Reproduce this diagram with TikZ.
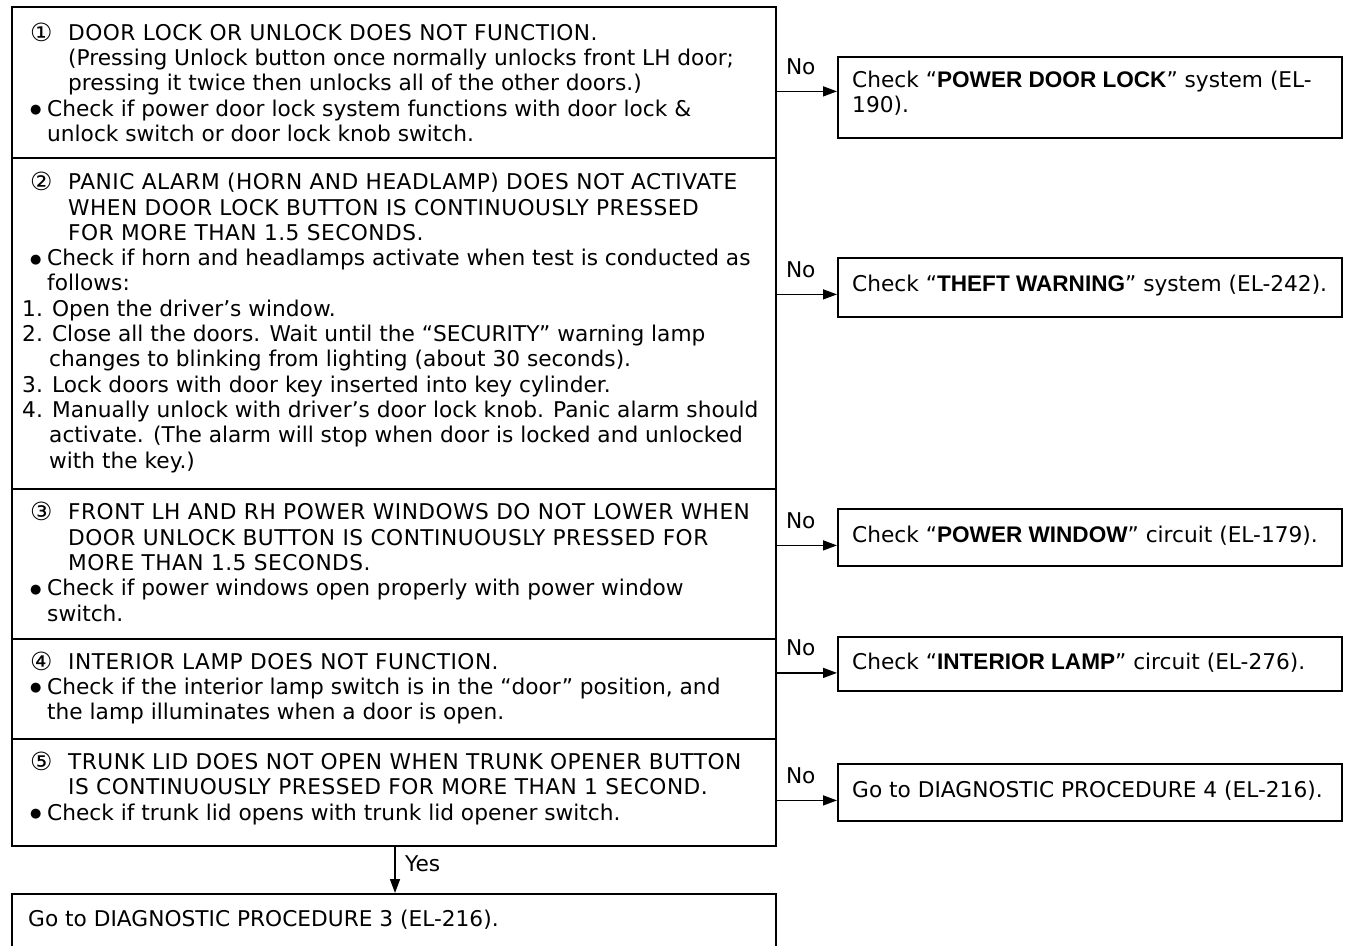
\documentclass[tikz,border=0pt]{standalone}
\usepackage{fontspec}
\setmainfont{DejaVu Sans}[BoldFont={Liberation Sans Bold},BoldFeatures={Scale=1.04}]
\usetikzlibrary{arrows.meta,calc}

% circled step number, bullet and the hanging indents used in the step boxes
\newcommand\cnum[1]{\raisebox{-1pt}{\fontsize{25}{25}\selectfont #1}}
\newcommand\lead[1]{\hspace*{8pt}\makebox[38pt][l]{\cnum{#1}}}
\newcommand\ind{\hspace*{46pt}}
\newcommand\bul{\makebox[25pt][l]{\hspace*{8pt}\raisebox{2.5pt}{\fontsize{13}{13}\selectfont ●}}}
\newcommand\bind{\hspace*{25pt}}
\newcommand\nind{\hspace*{27pt}}
% capitals are set slightly wider
\newcommand\wide[1]{{\addfontfeature{LetterSpace=2.2}#1}}

\begin{document}
\begin{tikzpicture}[x=1pt,y=-1pt,
  font=\fontsize{21.7}{25.3}\selectfont,
  stage/.style={draw, line width=1.8pt, rectangle, anchor=north west,
    minimum width=764pt, inner sep=0pt},
  rbox/.style={draw, line width=1.8pt, rectangle, anchor=north west,
    minimum width=504pt, inner sep=0pt},
  txt/.style={anchor=west, align=left, inner sep=0pt},
  flow/.style={line width=1.5pt, -{Triangle[length=14pt,width=10pt]}},
  lbl/.style={inner sep=0pt}]

\useasboundingbox (0,0) rectangle (1351,945);

% ---- step boxes (left column) ----
\node[stage, minimum height=151pt] (b1) at (11,6) {};
\node[stage, minimum height=331pt] (b2) at (11,157) {};
\node[stage, minimum height=150pt] (b3) at (11,488) {};
\node[stage, minimum height=100pt] (b4) at (11,638) {};
\node[stage, minimum height=107pt] (b5) at (11,738) {};
% final box (runs off the lower edge)
\node[stage, minimum height=62pt] (fin) at (11,893) {};

\node[txt] (t1) at ($(b1.west)+(11,0)$) {%
\lead{①}\wide{DOOR LOCK OR UNLOCK DOES NOT FUNCTION.}\\
\ind(Pressing Unlock button once normally unlocks front LH door;\\
\ind pressing it twice then unlocks all of the other doors.)\\
\bul Check if power door lock system functions with door lock \&\\
\bind unlock switch or door lock knob switch.};

\node[txt] (t2) at ($(b2.west)+(11,-1)$) {%
\lead{②}\wide{PANIC ALARM (HORN AND HEADLAMP) DOES NOT ACTIVATE}\\
\ind\wide{WHEN DOOR LOCK BUTTON IS CONTINUOUSLY PRESSED}\\
\ind\wide{FOR MORE THAN 1.5 SECONDS.}\\
\bul Check if horn and headlamps activate when test is conducted as\\
\bind follows:\\
1. Open the driver's window.\\
2. Close all the doors. Wait until the ``SECURITY'' warning lamp\\
\nind changes to blinking from lighting (about 30 seconds).\\
3. Lock doors with door key inserted into key cylinder.\\
4. Manually unlock with driver's door lock knob. Panic alarm should\\
\nind activate. (The alarm will stop when door is locked and unlocked\\
\nind with the key.)};

\node[txt] (t3) at ($(b3.west)+(11,-2)$) {%
\lead{③}\wide{FRONT LH AND RH POWER WINDOWS DO NOT LOWER WHEN}\\
\ind\wide{DOOR UNLOCK BUTTON IS CONTINUOUSLY PRESSED FOR}\\
\ind\wide{MORE THAN 1.5 SECONDS.}\\
\bul Check if power windows open properly with power window\\
\bind switch.};

\node[txt] (t4) at ($(b4.west)+(11,-1)$) {%
\lead{④}\wide{INTERIOR LAMP DOES NOT FUNCTION.}\\
\bul Check if the interior lamp switch is in the ``door'' position, and\\
\bind the lamp illuminates when a door is open.};

\node[txt] (t5) at ($(b5.west)+(11,-4)$) {%
\lead{⑤}\wide{TRUNK LID DOES NOT OPEN WHEN TRUNK OPENER BUTTON}\\
\ind\wide{IS CONTINUOUSLY PRESSED FOR MORE THAN 1 SECOND.}\\
\bul Check if trunk lid opens with trunk lid opener switch.};

\node[lbl, anchor=base west] (fintxt) at ($(fin.north west)+(17,33)$)
  {Go to DIAGNOSTIC PROCEDURE 3 (EL-216).};

% ---- result boxes (right column) ----
\node[rbox, minimum height=81pt] (r1) at (837,56) {};
\node[rbox, minimum height=59pt] (r2) at (837,257) {};
\node[rbox, minimum height=57pt] (r3) at (837,508) {};
\node[rbox, minimum height=54pt] (r4) at (837,636) {};
\node[rbox, minimum height=57pt] (r5) at (837,763) {};

\node[txt] (s1) at ($(r1.west)+(15,-4)$)
  {Check ``\textbf{POWER DOOR LOCK}'' system (EL-\\190).};
\node[txt] (s2) at ($(r2.west)+(15,-2)$)
  {Check ``\textbf{THEFT WARNING}'' system (EL-242).};
\node[txt] (s3) at ($(r3.west)+(15,-2)$)
  {Check ``\textbf{POWER WINDOW}'' circuit (EL-179).};
\node[txt] (s4) at ($(r4.west)+(15,-1)$)
  {Check ``\textbf{INTERIOR LAMP}'' circuit (EL-276).};
\node[txt] (s5) at ($(r5.west)+(15,-2)$)
  {Go to DIAGNOSTIC PROCEDURE 4 (EL-216).};

% ---- "No" branches ----
\foreach \b/\r/\dy in {b1/r1/-6, b2/r2/7, b3/r3/8, b4/r4/9, b5/r5/8}{
  \path (\r.west) ++(0,\dy) coordinate (\r-in);
  \draw[flow] (\r-in -| \b.east) -- (\r-in);
  \node[lbl, anchor=base west] (\r-no) at ($(\r-in -| \b.east)+(9,-17)$) {No};
}

% ---- "Yes" branch ----
\path (b5.south west) ++(384,0) coordinate (yesout);
\draw[flow] (yesout) -- (yesout |- fin.north);
\node[lbl, anchor=west] (yes) at ($(yesout)+(10,17)$) {Yes};

\end{tikzpicture}
\end{document}
